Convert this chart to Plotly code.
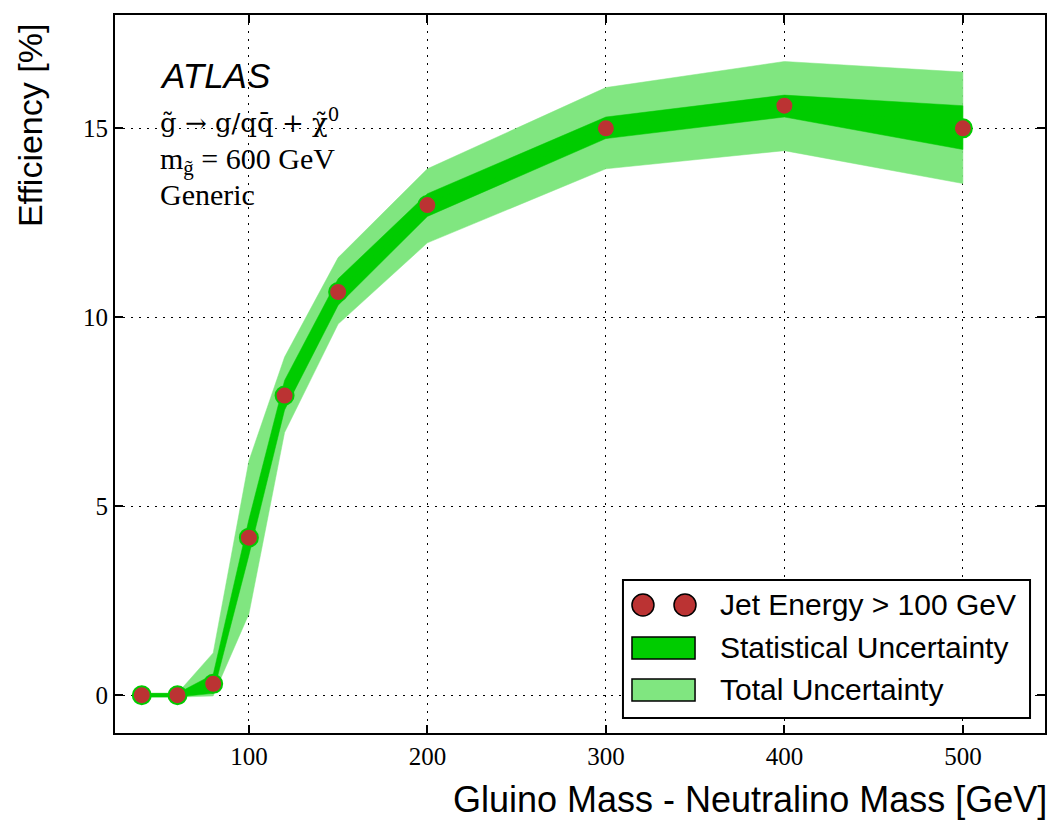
import plotly.graph_objects as go

mass = [40, 60, 80, 100, 120, 150, 200, 300, 400, 500]
eff = [0.0, 0.0, 0.3, 4.17, 7.93, 10.67, 12.97, 15.0, 15.6, 15.0]
stat_up = [0.05, 0.05, 0.55, 4.65, 8.33, 11.02, 13.27, 15.3, 15.88, 15.6]
stat_lo = [-0.05, -0.05, 0.05, 3.7, 7.55, 10.32, 12.67, 14.73, 15.3, 14.44]
tot_up = [0.05, 0.05, 1.12, 6.2, 8.95, 11.58, 13.93, 16.08, 16.77, 16.49]
tot_lo = [-0.05, -0.05, -0.02, 2.15, 6.95, 9.82, 11.97, 13.93, 14.41, 13.54]

x_ticks = [100, 200, 300, 400, 500]
y_ticks = [0, 5, 10, 15]

legend_labels = ["Jet Energy > 100 GeV", "Statistical Uncertainty", "Total Uncertainty"]

C_STAT = "#00cc00"
C_TOT = "#80e680"
C_PT = "#bb3333"

fig = go.Figure()

fig.add_trace(go.Scatter(
    x=mass + mass[::-1], y=tot_up + tot_lo[::-1],
    fill="toself", fillcolor=C_TOT, mode="lines",
    line=dict(color=C_TOT, width=0.5),
    name=legend_labels[2], hoverinfo="skip"))

fig.add_trace(go.Scatter(
    x=mass + mass[::-1], y=stat_up + stat_lo[::-1],
    fill="toself", fillcolor=C_STAT, mode="lines",
    line=dict(color=C_STAT, width=0.5),
    name=legend_labels[1], hoverinfo="skip"))

fig.add_trace(go.Scatter(
    x=mass, y=eff, mode="lines", line=dict(color=C_STAT, width=3),
    hoverinfo="skip"))

fig.add_trace(go.Scatter(
    x=mass, y=eff, mode="markers",
    marker=dict(size=18, color=C_PT, line=dict(color=C_STAT, width=2)),
    name=legend_labels[0]))

axis_common = dict(
    showline=True, linecolor="black", linewidth=2, mirror="ticks",
    ticks="inside", ticklen=8, tickwidth=1.5, tickcolor="black",
    showgrid=True, gridcolor="black", gridwidth=1, griddash="2px,6px",
    zeroline=False,
    tickfont=dict(family="Liberation Serif", size=25, color="black"),
)

fig.update_xaxes(range=[25, 546], tickvals=x_ticks, **axis_common)
fig.update_yaxes(range=[-1, 18], tickvals=y_ticks, **axis_common)

annotations = [
    dict(text="Gluino Mass - Neutralino Mass [GeV]", xref="paper", yref="paper",
         x=1.0, y=-0.093, xanchor="right", yanchor="middle", showarrow=False,
         xshift=4,
         font=dict(family="Liberation Sans", size=36, color="black")),
    dict(text="Efficiency [%]", xref="paper", yref="paper",
         x=-0.092, y=0.99, xanchor="center", yanchor="top", textangle=-90,
         showarrow=False,
         font=dict(family="Liberation Sans", size=34, color="black")),
    dict(text="<i>ATLAS</i>", xref="paper", yref="paper",
         x=0.046, y=0.916, xanchor="left", yanchor="middle", showarrow=False,
         font=dict(family="Liberation Sans", size=35, color="black")),
    dict(text="g\u0303 \u2192 g/qq\u0304 + \u03c7\u0303<sup>0</sup>", xref="paper", yref="paper",
         x=0.046, y=0.853, xanchor="left", yanchor="middle", showarrow=False,
         font=dict(family="DejaVu Serif", size=26, color="black")),
    dict(text="m<sub>g\u0303</sub> = 600 GeV", xref="paper", yref="paper",
         x=0.046, y=0.796, xanchor="left", yanchor="middle", showarrow=False,
         font=dict(family="Liberation Serif", size=30, color="black")),
    dict(text="Generic", xref="paper", yref="paper",
         x=0.046, y=0.750, xanchor="left", yanchor="middle", showarrow=False,
         font=dict(family="Liberation Serif", size=30, color="black")),
]

# manual legend (paper coordinates)
leg_text_x = 0.6484
leg_rows_y = [0.1783, 0.1184, 0.0599]
for lbl, yy in zip(legend_labels, leg_rows_y):
    annotations.append(dict(
        text=lbl, xref="paper", yref="paper", x=leg_text_x, y=yy,
        xanchor="left", yanchor="middle", showarrow=False,
        font=dict(family="Liberation Sans", size=30, color="black")))

shapes = [
    dict(type="rect", xref="paper", yref="paper",
         x0=0.5462, x1=0.9839, y0=0.0209, y1=0.2131,
         fillcolor="white", line=dict(color="black", width=2), layer="above"),
    dict(type="rect", xref="paper", yref="paper",
         x0=0.5559, x1=0.6237, y0=0.1031, y1=0.1337,
         fillcolor=C_STAT, line=dict(color="black", width=1.5), layer="above"),
    dict(type="rect", xref="paper", yref="paper",
         x0=0.5559, x1=0.6237, y0=0.0446, y1=0.0752,
         fillcolor=C_TOT, line=dict(color="black", width=1.5), layer="above"),
]
for cx in [0.5677, 0.6129]:
    shapes.append(dict(
        type="circle", xref="paper", yref="paper",
        xsizemode="pixel", ysizemode="pixel",
        xanchor=cx, yanchor=leg_rows_y[0],
        x0=-11, x1=11, y0=-11, y1=11,
        fillcolor=C_PT, line=dict(color="black", width=1.5), layer="above"))

fig.update_layout(
    width=1061, height=834,
    margin=dict(l=115, r=16, t=15, b=101),
    paper_bgcolor="white", plot_bgcolor="white",
    annotations=annotations,
    shapes=shapes,
    showlegend=False,
)

fig.write_html("out.html")
